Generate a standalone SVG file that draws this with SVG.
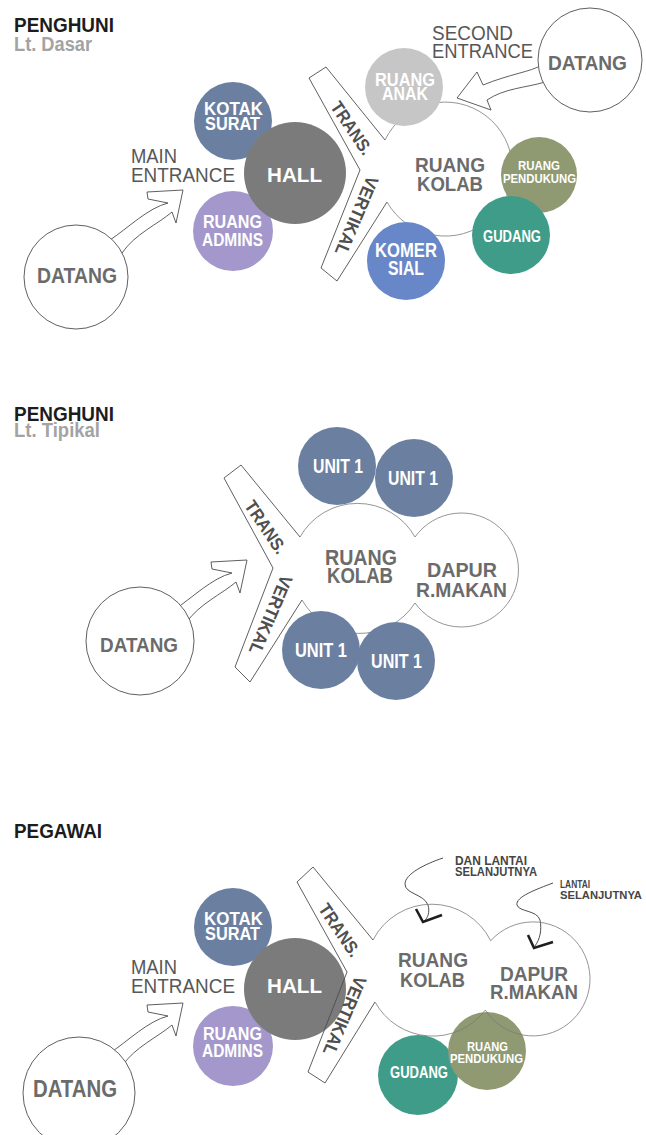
<svg xmlns="http://www.w3.org/2000/svg" xmlns:xlink="http://www.w3.org/1999/xlink" width="646" height="1135" viewBox="0 0 646 1135">
<style>
text{font-family:"Liberation Sans",Arial,sans-serif;font-weight:700}
.h{fill:#1c1c1c;font-size:19.5px}
.s{fill:#a3a3a3;font-size:19.5px}
.w{fill:#fff}
.g{fill:#6b6b6b}
.e{fill:#575757;font-weight:400;font-size:20px}
.d{fill:#4f4f4f;font-size:18px}
.n{fill:#454545;font-size:13.5px}
.ln{fill:none;stroke:#4d4d4d;stroke-width:0.9}
.cl{fill:none;stroke:#7a7a7a;stroke-width:0.8}
.wc{fill:#fff;stroke:#4d4d4d;stroke-width:0.9}
.blue{fill:#6b80a1}
.hall{fill:#7b7b7b}
.lav{fill:#a497cb}
.anak{fill:#c6c6c6}
.olive{fill:#8f9a72}
.teal{fill:#3f9c89}
.kom{fill:#6887c8}
.chev{fill:none;stroke:#1e1e1e;stroke-width:2.6}
.cur{fill:none;stroke:#3a3a3a;stroke-width:0.9}
</style>
<defs>
<path id="arrL" class="ln" d="M110,240 C128,228 148,208 168,203 L148,199 L147,192 L183,190 L176,223 L172,212 C158,224 135,234 122,253"/>
</defs>

<!-- connectors -->
<g id="connectors">
<use xlink:href="#arrL"/>
<use xlink:href="#arrL" transform="translate(64,370)"/>
<use xlink:href="#arrL" transform="translate(0,813)"/>
<path class="ln" d="M542,65 C530,72 510,74 483,85 L477,72 L457,98 L491,110 L487,100 C505,88 525,88 545,82"/>
<path class="cur" d="M443,858 C425,864 405,874 405,884 C405,894 424,894 428,905 C430,912 428,918 424,921"/>
<path class="chev" d="M416,909 L423,922 L442,915"/>
<path class="cur" d="M553,883 C537,889 515,897 517,905 C519,912 537,910 540,920 C542,930 540,939 535,946"/>
<path class="chev" d="M528,935 L534,948 L553,942"/>
</g>

<!-- ===== SECTION 1: PENGHUNI Lt. Dasar ===== -->
<g id="title-1">
<text class="h" x="14" y="32" textLength="100" lengthAdjust="spacingAndGlyphs">PENGHUNI</text>
<text class="s" x="14" y="51" textLength="78" lengthAdjust="spacingAndGlyphs">Lt. Dasar</text>
</g>
<g id="datang-1">
<circle class="wc" cx="76" cy="277" r="52"/>
<text class="g" font-size="22" x="37" y="283" textLength="80" lengthAdjust="spacingAndGlyphs">DATANG</text>
</g>
<g id="main-entrance-1">
<text class="e" x="131" y="163" textLength="46" lengthAdjust="spacingAndGlyphs">MAIN</text>
<text class="e" x="131" y="182" textLength="104" lengthAdjust="spacingAndGlyphs">ENTRANCE</text>
</g>
<g id="trans-vertikal-1">
<path class="ln" d="M385,140 L326,67 L309,78 L360,170 L321,268 L337,281 L387,202"/>
<text class="d" transform="translate(352,128) rotate(56)" x="-30" y="6.5" textLength="60" lengthAdjust="spacingAndGlyphs">TRANS.</text>
<text class="d" transform="translate(357,216) rotate(113)" x="-42" y="6.5" textLength="84" lengthAdjust="spacingAndGlyphs">VERTIKAL</text>
</g>
<g id="ruang-kolab-1">
<path class="cl" d="M385,140 A67,67 0 1,1 387,202"/>
<text class="g" font-size="21" x="415" y="172" textLength="70" lengthAdjust="spacingAndGlyphs">RUANG</text>
<text class="g" font-size="21" x="417" y="191" textLength="66" lengthAdjust="spacingAndGlyphs">KOLAB</text>
</g>
<g id="kotak-surat-1">
<circle class="blue" cx="233" cy="121" r="39"/>
<text class="w" font-size="18.5" x="204" y="115" textLength="59" lengthAdjust="spacingAndGlyphs">KOTAK</text>
<text class="w" font-size="18.5" x="205" y="130" textLength="55" lengthAdjust="spacingAndGlyphs">SURAT</text>
</g>
<g id="ruang-admins-1">
<circle class="lav" cx="233" cy="231" r="40"/>
<text class="w" font-size="18.5" x="203" y="228" textLength="59" lengthAdjust="spacingAndGlyphs">RUANG</text>
<text class="w" font-size="18.5" x="202" y="246" textLength="61" lengthAdjust="spacingAndGlyphs">ADMINS</text>
</g>
<g id="hall-1">
<circle class="hall" cx="295" cy="173" r="51"/>
<text class="w" font-size="21" x="267" y="182" textLength="55" lengthAdjust="spacingAndGlyphs">HALL</text>
</g>
<g id="ruang-anak-1">
<circle class="anak" cx="404" cy="87" r="39"/>
<text class="w" font-size="18" x="375" y="86" textLength="60" lengthAdjust="spacingAndGlyphs">RUANG</text>
<text class="w" font-size="18" x="382" y="100" textLength="46" lengthAdjust="spacingAndGlyphs">ANAK</text>
</g>
<g id="second-entrance-1">
<text class="e" x="432" y="40" textLength="81" lengthAdjust="spacingAndGlyphs">SECOND</text>
<text class="e" x="432" y="58" textLength="101" lengthAdjust="spacingAndGlyphs">ENTRANCE</text>
</g>
<g id="datang-2">
<circle class="wc" cx="590" cy="60" r="52"/>
<text class="g" font-size="21" x="548" y="70" textLength="79" lengthAdjust="spacingAndGlyphs">DATANG</text>
</g>
<g id="ruang-pendukung-1">
<circle class="olive" cx="539" cy="175" r="38"/>
<text class="w" font-size="12.5" x="518" y="170" textLength="42" lengthAdjust="spacingAndGlyphs">RUANG</text>
<text class="w" font-size="12.5" x="503" y="183" textLength="73" lengthAdjust="spacingAndGlyphs">PENDUKUNG</text>
</g>
<g id="gudang-1">
<circle class="teal" cx="511" cy="235" r="39"/>
<text class="w" font-size="16" x="483" y="242" textLength="58" lengthAdjust="spacingAndGlyphs">GUDANG</text>
</g>
<g id="komersial-1">
<circle class="kom" cx="406" cy="261" r="39"/>
<text class="w" font-size="21" x="375" y="257" textLength="62" lengthAdjust="spacingAndGlyphs">KOMER</text>
<text class="w" font-size="21" x="388" y="275" textLength="36" lengthAdjust="spacingAndGlyphs">SIAL</text>
</g>

<!-- ===== SECTION 2: PENGHUNI Lt. Tipikal ===== -->
<g id="title-2">
<text class="h" x="14" y="421" textLength="100" lengthAdjust="spacingAndGlyphs">PENGHUNI</text>
<text class="s" x="14" y="437" textLength="86" lengthAdjust="spacingAndGlyphs">Lt. Tipikal</text>
</g>
<g id="datang-3">
<circle class="wc" cx="140" cy="641" r="54"/>
<text class="g" font-size="21" x="100" y="652" textLength="78" lengthAdjust="spacingAndGlyphs">DATANG</text>
</g>
<g id="trans-vertikal-2">
<path class="ln" d="M300,537 L241,465 L224,478 L273,568 L235,667 L250,682 L302,600"/>
<text class="d" transform="translate(266,527) rotate(56)" x="-30" y="6.5" textLength="60" lengthAdjust="spacingAndGlyphs">TRANS.</text>
<text class="d" transform="translate(271,615) rotate(113)" x="-42" y="6.5" textLength="84" lengthAdjust="spacingAndGlyphs">VERTIKAL</text>
</g>
<g id="ruang-kolab-dapur-2">
<path class="cl" d="M300,537 A66,66 0 0,1 415,537 A57,57 0 1,1 415,603 A66,66 0 0,1 302,600"/>
<text class="g" font-size="22" x="325" y="565" textLength="72" lengthAdjust="spacingAndGlyphs">RUANG</text>
<text class="g" font-size="22" x="327" y="583" textLength="66" lengthAdjust="spacingAndGlyphs">KOLAB</text>
<text class="g" font-size="21" x="427" y="577" textLength="70" lengthAdjust="spacingAndGlyphs">DAPUR</text>
<text class="g" font-size="21" x="416" y="597" textLength="91" lengthAdjust="spacingAndGlyphs">R.MAKAN</text>
</g>
<g id="unit-1a">
<circle class="blue" cx="337" cy="466" r="39"/>
<text class="w" font-size="19.5" x="313" y="473" textLength="50" lengthAdjust="spacingAndGlyphs">UNIT 1</text>
</g>
<g id="unit-1b">
<circle class="blue" cx="414" cy="478" r="39"/>
<text class="w" font-size="19.5" x="388" y="485" textLength="50" lengthAdjust="spacingAndGlyphs">UNIT 1</text>
</g>
<g id="unit-1c">
<circle class="blue" cx="321" cy="650" r="39"/>
<text class="w" font-size="19.5" x="295" y="657" textLength="52" lengthAdjust="spacingAndGlyphs">UNIT 1</text>
</g>
<g id="unit-1d">
<circle class="blue" cx="396" cy="661" r="39"/>
<text class="w" font-size="19.5" x="371" y="668" textLength="51" lengthAdjust="spacingAndGlyphs">UNIT 1</text>
</g>

<!-- ===== SECTION 3: PEGAWAI ===== -->
<g id="title-3">
<text class="h" x="14" y="838" textLength="88" lengthAdjust="spacingAndGlyphs">PEGAWAI</text>
</g>
<g id="datang-4">
<circle class="wc" cx="79" cy="1093" r="56"/>
<text class="g" font-size="23" x="33" y="1097" textLength="84" lengthAdjust="spacingAndGlyphs">DATANG</text>
</g>
<g id="main-entrance-3">
<text class="e" x="131" y="974" textLength="46" lengthAdjust="spacingAndGlyphs">MAIN</text>
<text class="e" x="131" y="993" textLength="104" lengthAdjust="spacingAndGlyphs">ENTRANCE</text>
</g>
<g id="kotak-surat-3">
<circle class="blue" cx="233" cy="927" r="39"/>
<text class="w" font-size="18.5" x="204" y="925" textLength="59" lengthAdjust="spacingAndGlyphs">KOTAK</text>
<text class="w" font-size="18.5" x="205" y="940" textLength="55" lengthAdjust="spacingAndGlyphs">SURAT</text>
</g>
<g id="ruang-admins-3">
<circle class="lav" cx="233" cy="1046" r="40"/>
<text class="w" font-size="18.5" x="203" y="1040" textLength="59" lengthAdjust="spacingAndGlyphs">RUANG</text>
<text class="w" font-size="18.5" x="202" y="1057" textLength="61" lengthAdjust="spacingAndGlyphs">ADMINS</text>
</g>
<g id="hall-3">
<circle class="hall" cx="295" cy="989" r="51"/>
<text class="w" font-size="21" x="267" y="993" textLength="55" lengthAdjust="spacingAndGlyphs">HALL</text>
</g>
<g id="trans-vertikal-3">
<path class="ln" d="M373,940 L313,867 L297,882 L347,972 L308,1072 L325,1083 L375,1002"/>
<text class="d" transform="translate(340,930) rotate(56)" x="-30" y="6.5" textLength="60" lengthAdjust="spacingAndGlyphs">TRANS.</text>
<text class="d" transform="translate(345,1016) rotate(113)" x="-42" y="6.5" textLength="84" lengthAdjust="spacingAndGlyphs">VERTIKAL</text>
</g>
<g id="gudang-3">
<circle class="teal" cx="418" cy="1075" r="40"/>
<text class="w" font-size="16" x="390" y="1078" textLength="58" lengthAdjust="spacingAndGlyphs">GUDANG</text>
</g>
<g id="ruang-pendukung-3">
<circle class="olive" cx="487" cy="1051" r="39"/>
<text class="w" font-size="12.5" x="467" y="1051" textLength="41" lengthAdjust="spacingAndGlyphs">RUANG</text>
<text class="w" font-size="12.5" x="450" y="1063" textLength="73" lengthAdjust="spacingAndGlyphs">PENDUKUNG</text>
</g>
<g id="ruang-kolab-dapur-3">
<path class="cl" d="M373,940 A66,66 0 0,1 490.7,940.7 A57,57 0 1,1 485.3,1010.1 A66,66 0 0,1 375,1002"/>
<text class="g" font-size="21" x="398" y="967" textLength="70" lengthAdjust="spacingAndGlyphs">RUANG</text>
<text class="g" font-size="21" x="400" y="987" textLength="65" lengthAdjust="spacingAndGlyphs">KOLAB</text>
<text class="g" font-size="20" x="500" y="981" textLength="68" lengthAdjust="spacingAndGlyphs">DAPUR</text>
<text class="g" font-size="20" x="490" y="999" textLength="88" lengthAdjust="spacingAndGlyphs">R.MAKAN</text>
</g>
<g id="note-1">
<text class="n" x="455" y="865" textLength="72" lengthAdjust="spacingAndGlyphs">DAN LANTAI</text>
<text class="n" x="455" y="876" textLength="82" lengthAdjust="spacingAndGlyphs">SELANJUTNYA</text>
</g>
<g id="note-2">
<text class="n" font-size="11.5" x="560" y="888" textLength="30" lengthAdjust="spacingAndGlyphs" style="font-size:11.5px">LANTAI</text>
<text class="n" x="560" y="899" textLength="82" lengthAdjust="spacingAndGlyphs" style="font-size:11.5px">SELANJUTNYA</text>
</g>
</svg>
